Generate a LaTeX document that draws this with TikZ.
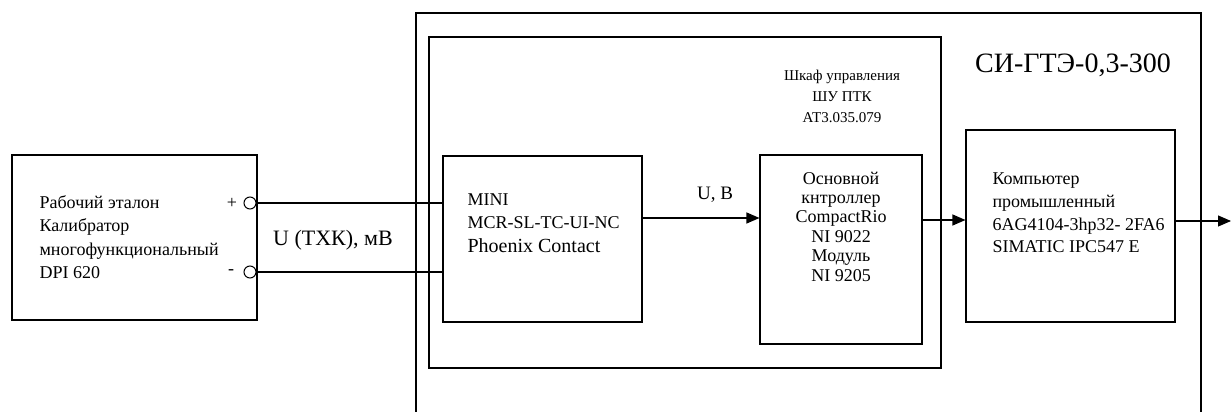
\documentclass[tikz,border=0pt]{standalone}
\usepackage{fontspec}
\setmainfont{Liberation Serif}
\usetikzlibrary{arrows.meta}
\newcommand{\fs}[2]{\fontsize{#1}{#2}\selectfont}
\begin{document}
\begin{tikzpicture}[x=1pt,y=1pt,
  line width=1.1pt,
  blk/.style={draw,rectangle,inner sep=0pt,line width=1.1pt},
  txt/.style={inner sep=0pt,font=\fs{18}{23.5}},
  term/.style={draw,circle,minimum size=12pt,inner sep=0pt,line width=1pt},
  arr/.style={-{Triangle[length=13pt,width=11pt]},line width=1.1pt}]
\useasboundingbox (0,0) rectangle (1231,412);
% outer system box (open at the bottom)
\draw (416,0) -- (416,399) -- (1201,399) -- (1201,0);
\node[inner sep=0pt,font=\fs{28}{32}] (sys) at (1073,347) {СИ-ГТЭ-0,3-300};
% cabinet
\node[blk,minimum width=512pt,minimum height=331pt] (cab) at (685,209.5) {};
\node[inner sep=0pt,align=center,font=\fs{15}{21}] (cabt) at (842,316) {Шкаф управления\\ШУ ПТК\\АТ3.035.079};
% calibrator
\node[blk,minimum width=245pt,minimum height=165pt] (cal) at (134.5,174.5) {};
\node[txt,align=left,anchor=west] (calt) at (39,175) {Рабочий эталон\\Калибратор\\многофункциональный\\DPI 620};
\node[term] (tp) at (250,209) {};
\node[term] (tm) at (250,140) {};
\node[inner sep=0pt,font=\fs{18}{20}] (plus) at (232,209) {+};
\node[inner sep=0pt,font=\fs{18}{20}] (minus) at (231,140) {-};
% MINI
\node[blk,minimum width=199pt,minimum height=166pt] (mini) at (542.5,173) {};
\node[txt,align=left,anchor=west] (minit) at (467,189) {MINI\\MCR-SL-TC-UI-NC\\{\fs{20}{23.5}Phoenix Contact}};
% controller
\node[blk,minimum width=162pt,minimum height=189pt] (ctrl) at (841,162.5) {};
\node[txt,align=center,font=\fs{18}{19.4}] (ctrlt) at (841,185.5) {Основной\\кнтроллер\\CompactRio\\NI 9022\\Модуль\\NI 9205};
% computer
\node[blk,minimum width=209pt,minimum height=192pt] (pc) at (1070.5,186) {};
\node[txt,align=left,anchor=west,font=\fs{18}{22.7}] (pct) at (992,199) {Компьютер\\промышленный\\6AG4104-3hp32- 2FA6\\SIMATIC IPC547 E};
% connections
\draw (tp.east) -- (tp.east -| mini.west);
\draw (tm.east) -- (tm.east -| mini.west);
\node[inner sep=0pt,font=\fs{22}{24}] (ulab) at (333,172) {U (ТХК), мВ};
\coordinate (a1) at (642,194);
\draw[arr] (mini.east |- a1) -- (ctrl.west |- a1);
\node[inner sep=0pt,font=\fs{19}{21}] (ub) at (715,217) {U, B};
\coordinate (a2) at (922,192);
\draw[arr] (ctrl.east |- a2) -- (pc.west |- a2);
\coordinate (out) at (1231,191);
\draw[arr] (pc.east |- out) -- (out);
\end{tikzpicture}
\end{document}
